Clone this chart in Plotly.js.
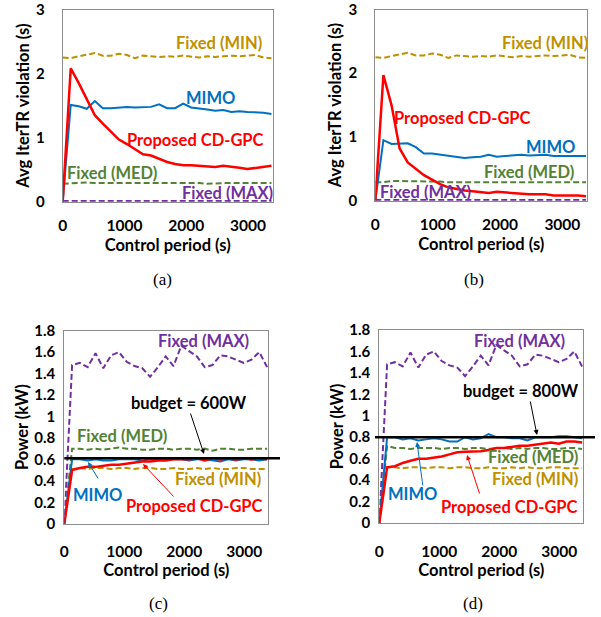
<!DOCTYPE html>
<html>
<head>
<meta charset="utf-8">
<script src="https://cdn.plot.ly/plotly-3.0.1.min.js"></script>
<style>html,body{margin:0;padding:0;background:#fff;}#chart{width:601px;height:617px;}</style>
</head>
<body>
<div id="chart"></div>
<script>
// ---- data ----
var periods = [0,130,260,390,520,650,780,910,1040,1170,1300,1430,1560,1690,1820,1950,2080,2210,2340,2470,2600,2730,2860,2990,3120,3250,3380];

// (a) Avg IterTR violation (s), budget 600W
var propA = [0,2.08,1.85,1.6,1.35,1.22,1.1,0.97,0.9,0.82,0.74,0.72,0.67,0.62,0.59,0.57,0.57,0.56,0.55,0.54,0.56,0.55,0.53,0.51,0.53,0.55,0.56];
var mimoA = [0,1.51,1.49,1.45,1.57,1.46,1.46,1.47,1.48,1.47,1.48,1.48,1.52,1.46,1.46,1.53,1.47,1.46,1.44,1.42,1.43,1.4,1.41,1.4,1.4,1.39,1.37];
var minA  = [2.25,2.24,2.27,2.29,2.32,2.28,2.28,2.31,2.29,2.24,2.28,2.27,2.26,2.27,2.26,2.28,2.27,2.25,2.27,2.26,2.27,2.28,2.27,2.28,2.29,2.25,2.24];
var medA  = [0.28,0.29,0.3,0.3,0.29,0.29,0.3,0.3,0.3,0.29,0.29,0.29,0.3,0.29,0.29,0.29,0.29,0.29,0.28,0.29,0.29,0.29,0.29,0.28,0.29,0.29,0.29];
var maxA  = [0.01,0.01,0.01,0.01,0.01,0.01,0.01,0.01,0.01,0.01,0.01,0.01,0.01,0.01,0.01,0.01,0.01,0.01,0.01,0.01,0.01,0.01,0.01,0.01,0.01,0.01,0.01];

// (b) Avg IterTR violation (s), budget 800W
var propB = [0,1.97,1.5,0.82,0.6,0.5,0.4,0.33,0.26,0.21,0.18,0.16,0.15,0.13,0.12,0.14,0.13,0.11,0.11,0.1,0.1,0.1,0.08,0.08,0.09,0.08,0.07];
var mimoB = [0,0.95,0.89,0.89,0.9,0.84,0.74,0.74,0.72,0.71,0.69,0.67,0.68,0.69,0.72,0.69,0.7,0.71,0.72,0.71,0.71,0.72,0.7,0.7,0.71,0.7,0.7];
var minB  = [2.25,2.24,2.27,2.29,2.32,2.28,2.28,2.31,2.29,2.24,2.28,2.27,2.26,2.27,2.26,2.28,2.27,2.25,2.27,2.26,2.27,2.28,2.27,2.28,2.29,2.25,2.24];
var medB  = [0.29,0.29,0.31,0.31,0.3,0.3,0.3,0.3,0.3,0.29,0.29,0.29,0.3,0.29,0.29,0.29,0.29,0.29,0.29,0.29,0.29,0.29,0.29,0.29,0.29,0.29,0.29];
var maxB  = [0.01,0.01,0.01,0.01,0.01,0.01,0.01,0.01,0.01,0.01,0.01,0.01,0.01,0.01,0.01,0.01,0.01,0.01,0.01,0.01,0.01,0.01,0.01,0.01,0.01,0.01,0.01];

// (c) Power (kW), budget 600W
var budgetC = 0.61;
var propC = [0,0.5,0.52,0.53,0.53,0.54,0.55,0.55,0.56,0.57,0.58,0.58,0.59,0.59,0.6,0.6,0.6,0.61,0.59,0.61,0.6,0.61,0.6,0.61,0.6,0.61,0.6];
var mimoC = [0,0.6,0.6,0.59,0.6,0.59,0.59,0.6,0.6,0.6,0.59,0.6,0.6,0.6,0.6,0.6,0.59,0.6,0.6,0.59,0.58,0.6,0.59,0.6,0.6,0.59,0.6];
var minC  = [0,0.51,0.52,0.51,0.52,0.52,0.51,0.52,0.52,0.51,0.52,0.52,0.51,0.51,0.52,0.51,0.51,0.52,0.51,0.52,0.51,0.51,0.52,0.52,0.51,0.51,0.51];
var medC  = [0,0.7,0.7,0.69,0.7,0.69,0.7,0.71,0.7,0.7,0.69,0.69,0.7,0.7,0.69,0.7,0.7,0.69,0.7,0.68,0.7,0.7,0.69,0.69,0.7,0.7,0.7];
var maxC  = [0,1.48,1.5,1.46,1.59,1.45,1.57,1.6,1.51,1.47,1.45,1.37,1.46,1.56,1.47,1.66,1.61,1.56,1.46,1.48,1.57,1.56,1.53,1.5,1.53,1.6,1.46];

// (d) Power (kW), budget 800W
var budgetD = 0.8;
var propD = [0,0.52,0.53,0.56,0.58,0.6,0.6,0.61,0.62,0.64,0.66,0.665,0.665,0.67,0.68,0.7,0.7,0.71,0.72,0.72,0.73,0.74,0.75,0.74,0.76,0.76,0.75];
var mimoD = [0,0.8,0.8,0.78,0.79,0.77,0.78,0.79,0.78,0.76,0.76,0.8,0.78,0.79,0.83,0.8,0.8,0.79,0.79,0.77,0.8,0.8,0.8,0.81,0.81,0.8,0.79];
var minD  = [0,0.52,0.52,0.51,0.52,0.52,0.51,0.52,0.52,0.51,0.52,0.52,0.51,0.51,0.52,0.51,0.51,0.52,0.51,0.52,0.51,0.51,0.52,0.52,0.51,0.51,0.51];
var medD  = [0,0.72,0.7,0.7,0.69,0.7,0.7,0.7,0.69,0.7,0.7,0.69,0.7,0.7,0.69,0.7,0.7,0.69,0.7,0.69,0.7,0.7,0.69,0.69,0.7,0.7,0.69];
var maxD  = [0,1.48,1.5,1.46,1.59,1.45,1.57,1.6,1.51,1.47,1.45,1.37,1.46,1.56,1.47,1.66,1.61,1.56,1.46,1.48,1.57,1.56,1.53,1.5,1.53,1.6,1.46];

var xTicks = [0,1000,2000,3000];
var yTicksV = [0,1,2,3];
var yTicksP = [0,0.2,0.4,0.6,0.8,1,1.2,1.4,1.6,1.8];

// ---- style ----
var C = {min:'#BF9000', mimo:'#0070C0', prop:'#FF0000', med:'#548235', max:'#7030A0'};
var FONT = 'Lato, Open Sans, sans-serif';
var DASH = '6px,3px';

function dashed(y, col, xa, ya) {
  return {x: periods, y: y, xaxis: xa, yaxis: ya, mode: 'lines', type: 'scatter',
          line: {color: col, width: 2, dash: DASH}, showlegend: false, hoverinfo: 'skip'};
}
function solid(y, col, w, xa, ya) {
  return {x: periods, y: y, xaxis: xa, yaxis: ya, mode: 'lines', type: 'scatter',
          line: {color: col, width: w}, showlegend: false, hoverinfo: 'skip'};
}

var data = [
  dashed(minA, C.min, 'x', 'y'), dashed(medA, C.med, 'x', 'y'), dashed(maxA, C.max, 'x', 'y'),
  solid(mimoA, C.mimo, 2, 'x', 'y'), solid(propA, C.prop, 2.5, 'x', 'y'),
  dashed(minB, C.min, 'x2', 'y2'), dashed(medB, C.med, 'x2', 'y2'), dashed(maxB, C.max, 'x2', 'y2'),
  solid(mimoB, C.mimo, 2, 'x2', 'y2'), solid(propB, C.prop, 2.5, 'x2', 'y2'),
  dashed(minC, C.min, 'x3', 'y3'), dashed(medC, C.med, 'x3', 'y3'), dashed(maxC, C.max, 'x3', 'y3'),
  solid(mimoC, C.mimo, 2, 'x3', 'y3'), solid(propC, C.prop, 2.5, 'x3', 'y3'),
  dashed(minD, C.min, 'x4', 'y4'), dashed(medD, C.med, 'x4', 'y4'), dashed(maxD, C.max, 'x4', 'y4'),
  solid(mimoD, C.mimo, 2, 'x4', 'y4'), solid(propD, C.prop, 2.5, 'x4', 'y4')
];

function W(px){ return px/601; }
function H(py){ return 1 - py/617; }

function xAxis(l, r, anchor, standoff, titleStandoff) {
  return {domain: [W(l), W(r)], anchor: anchor, range: [0, 3400], tickvals: xTicks,
          showgrid: false, zeroline: false, showline: true, mirror: true, linecolor: '#8c8c8c', linewidth: 1,
          ticks: '', ticklabelstandoff: standoff, ticklabeloverflow: 'allow',
          tickfont: {family: FONT, size: 15.5, weight: 'bold', color: '#000'},
          title: {text: 'Control period (s)', standoff: titleStandoff, font: {family: FONT, size: 16.5, weight: 'bold', color: '#000'}},
          automargin: false, fixedrange: true};
}
function yAxis(t, b, anchor, range, vals, title, standoff, titleStandoff) {
  return {domain: [H(b), H(t)], anchor: anchor, range: range, tickvals: vals,
          showgrid: false, zeroline: false, showline: true, mirror: true, linecolor: '#8c8c8c', linewidth: 1,
          ticks: '', ticklabelstandoff: standoff, ticklabeloverflow: 'allow',
          tickfont: {family: FONT, size: 15, weight: 'bold', color: '#000'},
          title: {text: title, standoff: titleStandoff, font: {family: FONT, size: 16.5, weight: 'bold', color: '#000'}},
          automargin: false, fixedrange: true};
}

function lab(text, cx, cy, col) {
  return {xref: 'paper', yref: 'paper', x: W(cx), y: H(cy), xanchor: 'center', yanchor: 'middle',
          text: text, showarrow: false, font: {family: FONT, size: 16.5, weight: 'bold', color: col}};
}
function arrow(hx, hy, tx, ty, col) {
  return {xref: 'paper', yref: 'paper', x: W(hx), y: H(hy), ax: tx - hx, ay: ty - hy, axref: 'pixel', ayref: 'pixel',
          text: '', showarrow: true, arrowhead: 2, arrowsize: 1, arrowwidth: 1, arrowcolor: col};
}
function cap(text, cx, cy) {
  return {xref: 'paper', yref: 'paper', x: W(cx), y: H(cy), xanchor: 'center', yanchor: 'middle',
          text: text, showarrow: false, font: {family: 'Liberation Serif, Times New Roman, serif', size: 17, color: '#000'}};
}

var layout = {
  width: 601, height: 617, margin: {l: 0, r: 0, t: 0, b: 0},
  paper_bgcolor: '#fff', plot_bgcolor: '#fff', showlegend: false,
  xaxis:  xAxis(62.7, 272.7, 'y', 10, 6),
  yaxis:  yAxis(9.5, 201.7, 'x', [0, 3], yTicksV, 'Avg IterTR violation (s)', 14, 2),
  xaxis2: xAxis(375.3, 587.3, 'y2', 10, 6),
  yaxis2: yAxis(9.5, 200.7, 'x2', [0, 3], yTicksV, 'Avg IterTR violation (s)', 14, 2),
  xaxis3: xAxis(64.3, 268.3, 'y3', 14, 5),
  yaxis3: yAxis(330.7, 523.7, 'x3', [0, 1.8], yTicksP, 'Power (kW)', 5, 1),
  xaxis4: xAxis(379.3, 583.3, 'y4', 14, 5),
  yaxis4: yAxis(330, 523, 'x4', [0, 1.8], yTicksP, 'Power (kW)', 5, 1),
  shapes: [
    {type: 'line', xref: 'paper', yref: 'y3', x0: W(64.3), x1: W(280), y0: budgetC, y1: budgetC, line: {color: '#000', width: 2.5}},
    {type: 'line', xref: 'paper', yref: 'y4', x0: W(375), x1: W(595), y0: budgetD, y1: budgetD, line: {color: '#000', width: 2.5}}
  ],
  annotations: [
    // (a)
    lab('Fixed (MIN)', 219, 43, C.min),
    lab('MIMO', 210, 98, C.mimo),
    lab('Proposed CD-GPC', 195, 140, C.prop),
    lab('Fixed (MED)', 112, 173, C.med),
    lab('Fixed (MAX)', 227, 193, C.max),
    // (b)
    lab('Fixed (MIN)', 544.5, 43, C.min),
    lab('Proposed CD-GPC', 462, 118, C.prop),
    lab('MIMO', 550, 147, C.mimo),
    lab('Fixed (MED)', 529, 172, C.med),
    lab('Fixed (MAX)', 425, 192, C.max),
    // (c)
    lab('Fixed (MAX)', 203, 341, C.max),
    lab('budget = 600W', 189, 403, '#000'),
    lab('Fixed (MED)', 122, 436, C.med),
    lab('Fixed (MIN)', 218, 479, C.min),
    lab('MIMO', 97, 495, C.mimo),
    lab('Proposed CD-GPC', 194, 506, C.prop),
    arrow(204, 454, 190, 412, '#000'),
    arrow(88, 462, 99, 480, C.mimo),
    arrow(143, 464, 175, 498, C.prop),
    // (d)
    lab('Fixed (MAX)', 519, 341, C.max),
    lab('budget = 800W', 521, 391, '#000'),
    lab('Fixed (MED)', 533, 457, C.med),
    lab('Fixed (MIN)', 535, 479, C.min),
    lab('MIMO', 413, 494, C.mimo),
    lab('Proposed CD-GPC', 509, 507, C.prop),
    arrow(537, 435, 530, 400, '#000'),
    arrow(417, 442, 423, 487, C.mimo),
    arrow(467, 455, 480, 495, C.prop),
    // captions
    cap('(a)', 162, 279), cap('(b)', 474, 279), cap('(c)', 158, 603), cap('(d)', 473, 603)
  ]
};

Plotly.newPlot('chart', data, layout, {staticPlot: true, displayModeBar: false});
</script>
</body>
</html>
